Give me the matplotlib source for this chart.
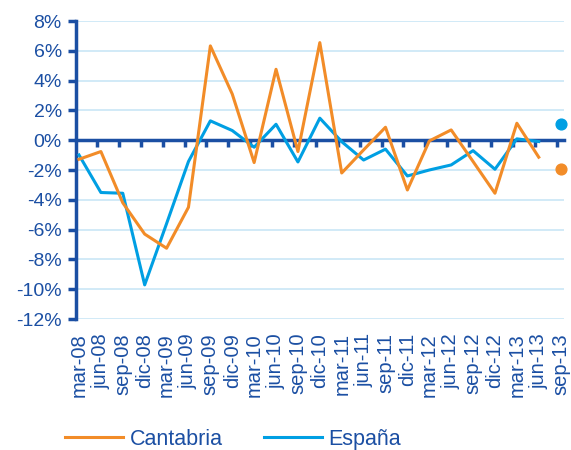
import matplotlib.pyplot as plt
import numpy as np

plt.rcParams['font.family'] = ['Liberation Sans', 'DejaVu Sans']

labels = ['mar-08', 'jun-08', 'sep-08', 'dic-08', 'mar-09', 'jun-09', 'sep-09', 'dic-09',
          'mar-10', 'jun-10', 'sep-10', 'dic-10', 'mar-11', 'jun-11', 'sep-11', 'dic-11',
          'mar-12', 'jun-12', 'sep-12', 'dic-12', 'mar-13', 'jun-13', 'sep-13']

# tasas (%) hasta jun-13
cantabria = [-1.28, -0.76, -4.2, -6.3, -7.25, -4.5, 6.33, 3.1, -1.5, 4.76, -0.76, 6.55,
             -2.2, -0.65, 0.87, -3.34, -0.05, 0.69, -1.43, -3.56, 1.14, -1.14]
espana = [-0.99, -3.51, -3.56, -9.71, -5.6, -1.43, 1.3, 0.65, -0.47, 1.07, -1.46, 1.48,
          -0.1, -1.33, -0.6, -2.4, -2.0, -1.66, -0.7, -1.95, 0.09, -0.09]
# ultimo dato (sep-13), solo punto
cantabria_last = -1.95
espana_last = 1.11

c_orange = '#F28C28'
c_blue = '#009FE3'
c_axis = '#1B4FA3'
c_grid = '#C9E6F6'

fig = plt.figure(figsize=(5.71, 4.5), dpi=100)
ax = fig.add_axes([0.1326, 0.2911, 0.855, 0.6622])

x = np.arange(len(labels))
ax.plot(x[:len(cantabria)], cantabria, color=c_orange, lw=2.2, label='Cantabria', zorder=4)
ax.plot(x[:len(espana)], espana, color=c_blue, lw=2.2, label='España', zorder=3)
ax.scatter([x[-1]], [espana_last], color=c_blue, s=60, zorder=5, clip_on=False)
ax.scatter([x[-1]], [cantabria_last], color=c_orange, s=60, zorder=5, clip_on=False)

ax.set_ylim(-12, 8)
ax.set_xlim(-0.15, len(labels) - 1 + 0.15)
ax.set_yticks(np.arange(-12, 9, 2))
ax.set_yticklabels([f'{v}%' for v in range(-12, 9, 2)])
ax.yaxis.grid(True, color=c_grid, lw=1.2)
ax.set_axisbelow(True)

for s in ['top', 'right']:
    ax.spines[s].set_visible(False)
ax.spines['left'].set_color(c_axis)
ax.spines['left'].set_linewidth(2.5)
ax.spines['bottom'].set_position(('data', 0))
ax.spines['bottom'].set_color(c_axis)
ax.spines['bottom'].set_linewidth(2.5)
ax.spines['bottom'].set_zorder(2)

ax.tick_params(axis='y', colors=c_axis, labelsize=14, direction='out', length=6, width=2.5, pad=4)
ax.set_xticks(x[1:] - 0.18)
ax.tick_params(axis='x', colors=c_axis, direction='out', length=5, width=2.5, labelbottom=False)

sec = ax.secondary_xaxis(0)
sec.set_xticks(x)
sec.set_xticklabels(labels, rotation=90)
sec.tick_params(length=0, labelsize=14.5, labelcolor=c_axis, pad=10)
sec.spines['bottom'].set_visible(False)

fig.legend(loc='lower left', bbox_to_anchor=(0.08, -0.042), ncol=2, frameon=False,
           fontsize=15.5, labelcolor=c_axis, handlelength=2.7, handletextpad=0.3,
           columnspacing=1.9)

fig.savefig('out.png', dpi=100)
